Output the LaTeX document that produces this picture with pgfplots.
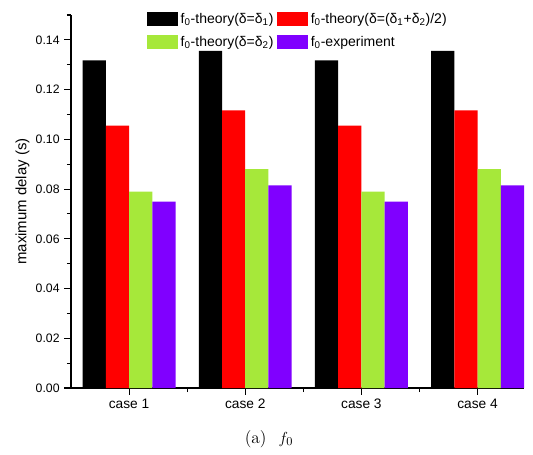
\documentclass[border=0pt]{standalone}
\usepackage{fontspec}
\setmainfont{Liberation Sans}
\newfontfamily\lmr{Latin Modern Roman}
\usepackage{pgfplots}
\pgfplotsset{compat=1.18}

\definecolor{cblack}{RGB}{0,0,0}
\definecolor{cred}{RGB}{255,0,0}
\definecolor{cgreen}{RGB}{166,232,58}
\definecolor{cpurple}{RGB}{128,0,255}

\pgfplotsset{
  boxlegend/.style={legend image code/.code={%
    \fill[##1] (0pt,-5.5pt) rectangle (23pt,5.5pt);}},
}

\begin{document}
\begin{tikzpicture}
\begin{axis}[
    name=ax,
    scale only axis,
    width=339.75pt, height=279.75pt,
    ybar=0pt, bar width=0.2,
    xmin=-0.5, xmax=3.4,
    ymin=0, ymax=0.15,
    axis x line*=bottom, axis y line*=left,
    axis line style={-, line width=0.8pt},
    tick align=outside,
    major tick length=5pt, minor tick length=3pt,
    tick style={line width=0.8pt, black},
    xtick={0,1,2,3},
    xticklabels={case 1,case 2,case 3,case 4},
    minor xtick={0.5,1.5,2.5},
    ytick={0,0.02,...,0.141},
    minor ytick={0.01,0.03,...,0.15},
    /pgf/number format/fixed,
    /pgf/number format/fixed zerofill,
    /pgf/number format/precision=2,
    /pgf/number format/assume math mode=true,
    yticklabel style={font=\fontsize{9.2}{10}\selectfont},
    xticklabel style={font=\fontsize{10.3}{12}\selectfont},
    ylabel={maximum delay (s)},
    ylabel style={font=\fontsize{11.2}{13}\selectfont, at={(axis description cs:-0.107,0.5)}, anchor=center},
    scaled y ticks=false,
    legend columns=2,
    legend style={draw=none, fill=none, at={(rel axis cs:0.168,1.013)}, anchor=north west,
      font=\fontsize{10.5}{12}\selectfont, inner sep=0pt,
      /tikz/every even column/.append style={column sep=1pt},
      row sep=4pt},
    legend cell align=left,
]
\addplot[fill=cblack, draw=none, boxlegend] coordinates {(0,0.1318) (1,0.1356) (2,0.1318) (3,0.1356)};
\addlegendentry{f\textsubscript{0}-theory(δ=δ\textsubscript{1})}
\addplot[fill=cred, draw=none, boxlegend] coordinates {(0,0.1055) (1,0.1116) (2,0.1055) (3,0.1116)};
\addlegendentry{f\textsubscript{0}-theory(δ=(δ\textsubscript{1}+δ\textsubscript{2})/2)}
\addplot[fill=cgreen, draw=none, boxlegend] coordinates {(0,0.0790) (1,0.0880) (2,0.0790) (3,0.0880)};
\addlegendentry{f\textsubscript{0}-theory(δ=δ\textsubscript{2})}
\addplot[fill=cpurple, draw=none, boxlegend] coordinates {(0,0.0750) (1,0.0815) (2,0.0750) (3,0.0815)};
\addlegendentry{f\textsubscript{0}-experiment}
\end{axis}
\node[font=\lmr\fontsize{13}{15}\selectfont, anchor=base] at ([shift={(148.5pt,-41.25pt)}]ax.south west) {(a)\hspace{9pt}$f_0$};
\pgfresetboundingbox
\path[use as bounding box] ([shift={(-53.25pt,-49.5pt)}]ax.south west) rectangle ([shift={(6.75pt,11.25pt)}]ax.north east);
\end{tikzpicture}
\end{document}
